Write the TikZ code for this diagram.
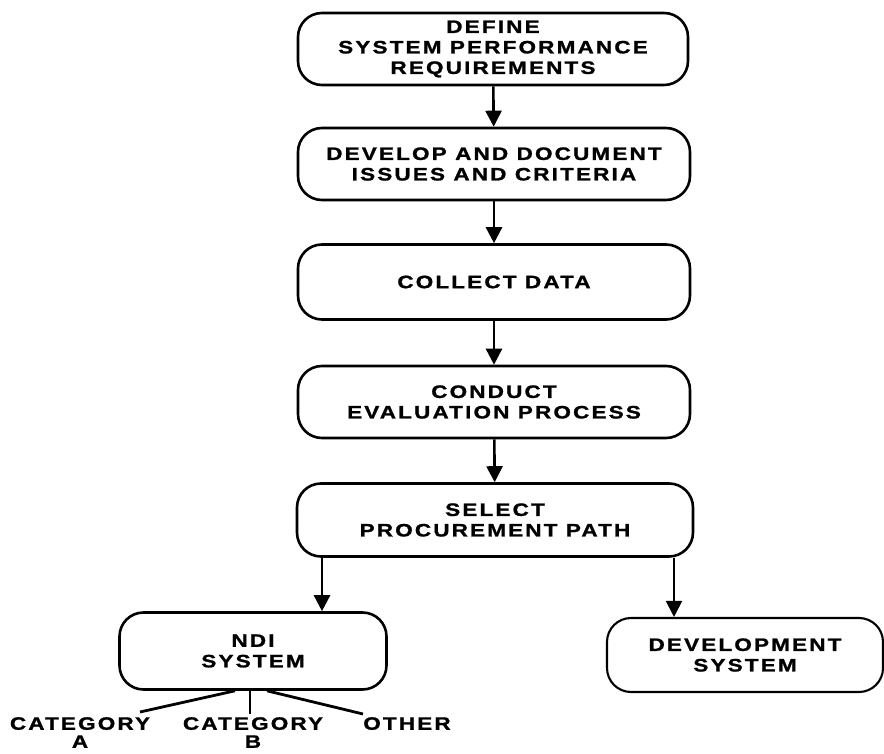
\documentclass[tikz,border=0pt]{standalone}
\usepackage{fontspec}
\setmainfont{Liberation Sans}[FakeStretch=1.25,LetterSpace=12,BoldFeatures={FakeBold=1.2}]
\usetikzlibrary{arrows.meta}
\begin{document}
\begin{tikzpicture}[x=1pt,y=-1pt,
  txt/.style={font=\bfseries\fontsize{18}{20.5}\selectfont, align=center, inner sep=0pt},
  box/.style={txt, draw, line width=2.6pt, rounded corners=24pt},
  arr/.style={line width=2.6pt, -{Triangle[width=16pt,length=16pt]}},
  branch/.style={line width=2.8pt}]
\useasboundingbox (0,0) rectangle (884,754);
\node[box, minimum width=390pt, minimum height=72pt] (b1) at (493,49) {DEFINE\\SYSTEM PERFORMANCE\\REQUIREMENTS};
\node[box, minimum width=392pt, minimum height=72pt] (b2) at (494,164) {DEVELOP AND DOCUMENT\\ISSUES AND CRITERIA};
\node[box, minimum width=392pt, minimum height=75pt] (b3) at (494,282) {COLLECT DATA};
\node[box, minimum width=392pt, minimum height=72pt] (b4) at (494,402) {CONDUCT\\EVALUATION PROCESS};
\node[box, minimum width=396pt, minimum height=73pt] (b5) at (495,520) {SELECT\\PROCUREMENT PATH};
\node[box, minimum width=267pt, minimum height=77pt] (ndi) at (253,651) {NDI\\SYSTEM};
\node[box, minimum width=276pt, minimum height=74pt, line width=2.1pt] (dev) at (745,655) {DEVELOPMENT\\SYSTEM};
\coordinate (xl) at (322,0);
\coordinate (xr) at (674,0);
\draw[arr] (b1) -- (b2);
\draw[arr] (b2) -- (b3);
\draw[arr] (b3) -- (b4);
\draw[arr] (b4) -- (b5);
\draw[arr] (b5.south -| xl) -- (ndi.north -| xl);
\draw[arr, line width=2.1pt] (b5.south -| xr) -- (dev.north -| xr);
\node[txt, anchor=north, font=\bfseries\fontsize{18}{18}\selectfont] (ca) at (80,717) {CATEGORY\\A};
\node[txt, anchor=north, font=\bfseries\fontsize{18}{18}\selectfont] (cb) at (253,717) {CATEGORY\\B};
\node[txt, anchor=north] (ot) at (407,717) {OTHER};
\coordinate (ea) at (140,712);
\coordinate (eb) at (250,714);
\coordinate (eo) at (363,714);
\draw[branch] ([xshift=-18pt]ndi.south) -- (ea);
\draw[branch] ([xshift=-3pt]ndi.south) -- (eb);
\draw[branch] ([xshift=14pt]ndi.south) -- (eo);
\end{tikzpicture}
\end{document}
